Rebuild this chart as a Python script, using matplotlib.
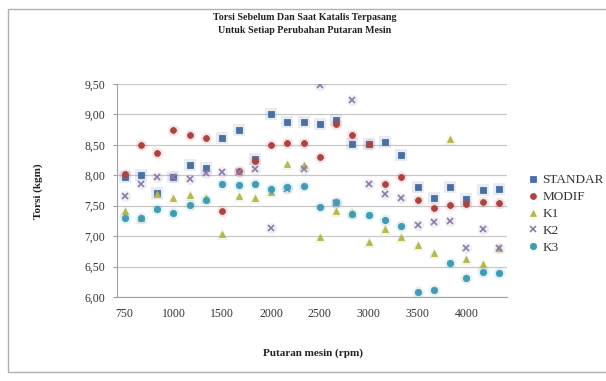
import matplotlib
matplotlib.use("Agg")
import matplotlib.pyplot as plt
from matplotlib.patches import Rectangle
import numpy as np

# Engine speed steps (24 measurements); only every third step is labelled
tick_labels = ["750", "1000", "1500", "2000", "2500", "3000", "3500", "4000"]
n_steps = 24

standar = [7.98, 8.00, 7.71, 7.98, 8.17, 8.12, 8.61, 8.74, 8.27, 9.01, 8.87, 8.87,
           8.85, 8.91, 8.52, 8.51, 8.55, 8.34, 7.80, 7.63, 7.81, 7.61, 7.76, 7.77]
modif = [8.02, 8.49, 8.37, 8.74, 8.66, 8.62, 7.41, 8.07, 8.24, 8.49, 8.53, 8.53,
         8.30, 8.85, 8.66, 8.51, 7.85, 7.97, 7.59, 7.47, 7.51, 7.52, 7.56, 7.54]
k1 = [7.41, 7.30, 7.70, 7.62, 7.68, 7.62, 7.03, 7.66, 7.62, 7.72, 8.18, 8.17,
      6.99, 7.41, 7.38, 6.90, 7.11, 6.98, 6.85, 6.73, 8.59, 6.63, 6.54, 6.80]
k2 = [7.66, 7.85, 7.98, 7.98, 7.94, 8.03, 8.06, 8.05, 8.11, 7.14, 7.77, 8.10,
      9.48, 7.55, 9.24, 7.85, 7.69, 7.62, 7.18, 7.23, 7.25, 6.81, 7.11, 6.81]
k3 = [7.29, 7.30, 7.44, 7.38, 7.51, 7.59, 7.85, 7.84, 7.85, 7.77, 7.80, 7.82,
      7.48, 7.56, 7.36, 7.34, 7.26, 7.16, 6.09, 6.11, 6.56, 6.32, 6.41, 6.40]

series = [
    ("STANDAR", standar, "s", "#4A6FA5", 4.6),
    ("MODIF", modif, "o", "#B0413E", 4.2),
    ("K1", k1, "^", "#B5B84A", 4.6),
    ("K2", k2, "x", "#8C7BA8", 4.0),
    ("K3", k3, "o", "#3E9DB5", 4.6),
]

plt.rcParams["font.family"] = ["Liberation Serif", "DejaVu Serif"]

W, H = 606, 381
fig = plt.figure(figsize=(W / 100, H / 100), dpi=100)

# chart-area frame
fig.patches.append(Rectangle((8 / W, 1 - 372 / H), 620 / W, (372 - 9) / H,
                             transform=fig.transFigure, fill=False,
                             edgecolor="#B0B0B0", linewidth=1.0))

ax = fig.add_axes([116.5 / W, 1 - 297 / H, (507 - 116.5) / W, (297 - 84) / H])

x = np.arange(n_steps)
for name, vals, mk, col, ms in series:
    # soft glow under each marker
    ax.plot(x, vals, linestyle="none", marker=mk if mk != "x" else "o",
            markersize=ms + 4, color=col, alpha=0.13, markeredgewidth=0)
    if mk == "x":
        ax.plot(x, vals, linestyle="none", marker=mk, markersize=ms, color=col,
                markeredgewidth=1.2, label=name)
    else:
        ax.plot(x, vals, linestyle="none", marker=mk, markersize=ms, color=col,
                markeredgewidth=0.6, markeredgecolor=col, label=name)

ax.set_xlim(-0.5, n_steps - 0.5)
ax.set_ylim(6.0, 9.5)
yt = np.arange(6.0, 9.51, 0.5)
ax.set_yticks(yt)
ax.set_yticklabels([f"{v:.2f}".replace(".", ",") for v in yt])
ax.set_xticks(np.arange(0, n_steps, 3))
ax.set_xticklabels(tick_labels)

ax.grid(axis="y", color="#C8C8C8", linewidth=0.9)
ax.set_axisbelow(True)
for s in ["top", "right"]:
    ax.spines[s].set_visible(False)
ax.spines["left"].set_color("#A0A0A0")
ax.spines["bottom"].set_color("#A0A0A0")
ax.tick_params(axis="y", length=3, width=0.8, color="#A0A0A0", pad=5,
               labelsize=8.5, labelcolor="#333333")
ax.tick_params(axis="x", length=0, pad=8, labelsize=8.5, labelcolor="#333333")

fig.text(0.503, 1 - 24 / H, "Torsi Sebelum Dan Saat Katalis Terpasang\nUntuk Setiap Perubahan Putaran Mesin",
         ha="center", va="center", fontsize=7.2, fontweight="bold", color="#222222",
         linespacing=1.45)
fig.text(38 / W, 1 - 191 / H, "Torsi (kgm)", rotation=90, ha="center", va="center",
         fontsize=8, fontweight="bold", color="#222222")
fig.text(313 / W, 1 - 353 / H, "Putaran mesin (rpm)", ha="center", va="center",
         fontsize=8, fontweight="bold", color="#222222")

ax.legend(loc="center left", bbox_to_anchor=(524 / W, 1 - 214 / H),
          bbox_transform=fig.transFigure, frameon=False, fontsize=9.5,
          handlelength=0.6, handletextpad=0.4, labelspacing=0.35,
          borderaxespad=0, labelcolor="#333333")

fig.savefig("out.png", dpi=100)
